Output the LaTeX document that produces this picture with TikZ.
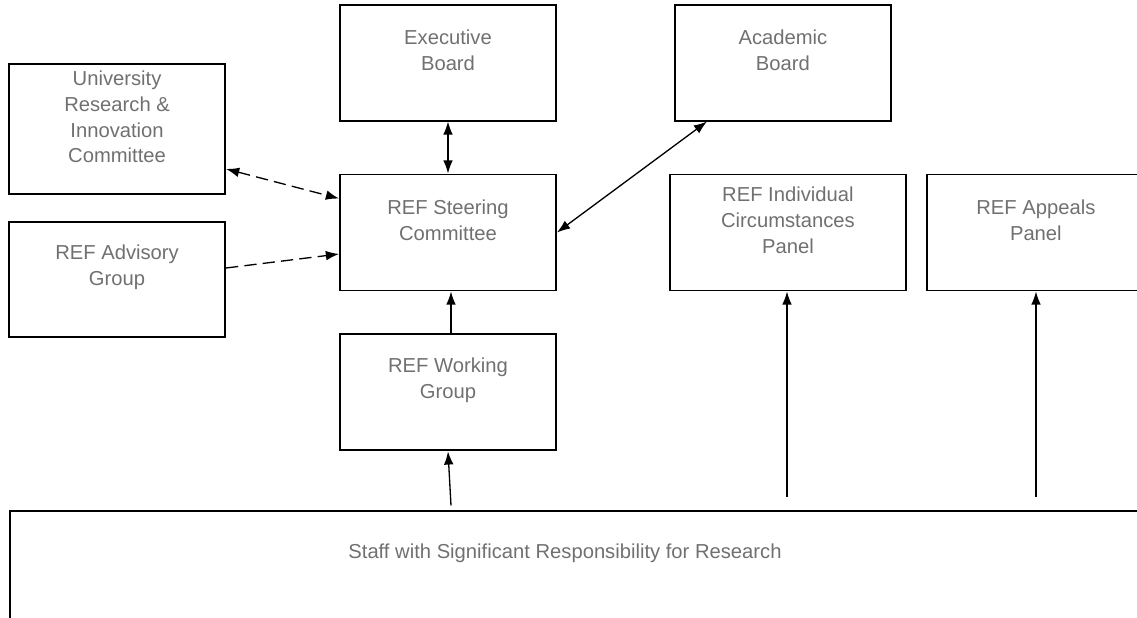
\documentclass[tikz,border=0pt]{standalone}
\usepackage{fontspec}
\setmainfont{Liberation Sans}
\usetikzlibrary{arrows.meta,positioning}
\definecolor{textgrey}{RGB}{112,112,112}

\begin{document}
\begin{tikzpicture}[>={Latex[length=7.5pt,width=5.5pt]},node distance=1cm]
\tikzstyle{box}=[draw,line width=1.1pt,minimum width=4.32cm,minimum height=2.32cm,inner sep=0pt]
\tikzstyle{lbl}=[align=center,text=textgrey,font=\fontsize{11.5}{14.7}\selectfont,inner sep=0pt]
\tikzstyle{link}=[line width=0.75pt]
\tikzstyle{advice}=[link,dash pattern=on 7pt off 3.5pt]
\useasboundingbox (0,0) rectangle (22.74,-12.36);
% boxes
\node[box] (steer) at (8.96,-4.65) {};
\node[box, above=1.04cm of steer] (exec) {};
\node[box, right=2.34cm of exec] (acad) {};
\node[box, left=2.26cm of steer, yshift=2.07cm, minimum height=2.6cm] (univ) {};
\node[box, left=2.26cm of steer, yshift=-0.94cm, minimum height=2.3cm] (adv) {};
\node[box, below=0.84cm of steer] (work) {};
\node[box, right=2.24cm of steer, minimum width=4.72cm] (indiv) {};
\node[box, right=0.38cm of indiv, minimum width=4.36cm] (appeal) {};
\node[box, minimum width=22.64cm, minimum height=2.98cm] (staff) at (11.52,-11.71) {};
% texts
\node[lbl] (steer-t) at ([yshift=0.24cm]steer.center) {REF Steering\\Committee};
\node[lbl] (exec-t) at ([yshift=0.24cm]exec.center) {Executive\\Board};
\node[lbl] (acad-t) at ([yshift=0.24cm]acad.center) {Academic\\Board};
\node[lbl] (univ-t) at ([yshift=0.24cm]univ.center) {University\\Research \&\\Innovation\\Committee};
\node[lbl] (adv-t) at ([yshift=0.24cm]adv.center) {REF Advisory\\Group};
\node[lbl] (work-t) at ([yshift=0.24cm]work.center) {REF Working\\Group};
\node[lbl] (indiv-t) at ([yshift=0.24cm]indiv.center) {REF Individual\\Circumstances\\Panel};
\node[lbl] (appeal-t) at ([yshift=0.24cm]appeal.center) {REF Appeals\\Panel};
\node[lbl] (staff-t) at (11.3,-11.07) {Staff with Significant Responsibility for Research};
% free ends above the staff box
\coordinate (s-work) at (9.02,-10.11);
\coordinate (s-indiv) at (15.74,-9.94);
\coordinate (s-appeal) at (20.72,-9.94);
% links
\draw[link,<->] (exec) -- (steer);
\draw[link,<->] ([xshift=0.66cm]acad.south west) -- (steer.east);
\draw[advice,<->] ([yshift=0.52cm]univ.south east) -- ([yshift=-0.5cm]steer.north west);
\draw[advice,->] ([yshift=0.23cm]adv.east) -- ([yshift=-0.43cm]steer.west);
\draw[link,->] ([xshift=0.06cm]work.north) -- ([xshift=0.06cm]steer.south);
\draw[link,->] (s-work) -- (work.south);
\draw[link,->] (s-indiv) -- (s-indiv |- indiv.south);
\draw[link,->] (s-appeal) -- (s-appeal |- appeal.south);
\end{tikzpicture}
\end{document}
